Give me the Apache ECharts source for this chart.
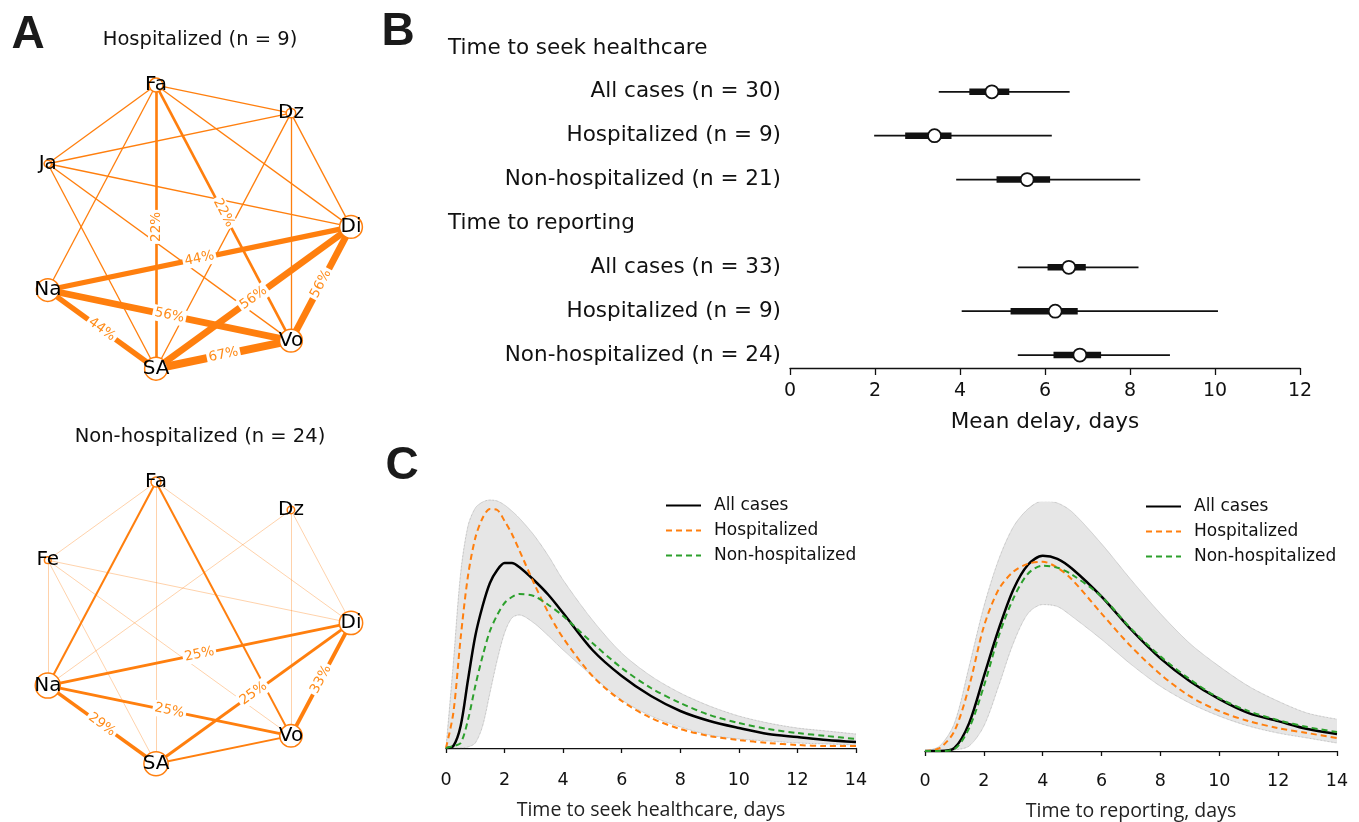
<!DOCTYPE html>
<html>
<head>
<meta charset="utf-8">
<script src="https://cdn.jsdelivr.net/npm/echarts@6/dist/echarts.min.js"></script>
<style>html,body{margin:0;padding:0;background:#fff}#main{width:1359px;height:822px}</style>
</head>
<body>
<div id="main"></div>
<script>
var FONT = '"DejaVu Sans", sans-serif';
var ORANGE = '#ff7f0e', GREEN = '#2ca02c';

// A - symptom networks (edge value = % of cases with both symptoms)
var hospNodes = ['Di','Dz','Fa','Ja','Na','SA','Vo'];
var hospCount = [8,2,4,1,8,8,8];        // n = 9
var hospEdges = [
	['Fa','Dz',11],['Fa','Ja',11],['Fa','Na',11],['Fa','Di',11],['Fa','SA',22],['Fa','Vo',22],
	['Ja','Dz',11],['Ja','Di',11],['Ja','Vo',11],['Ja','SA',11],
	['Dz','Di',11],['Dz','Vo',11],['Dz','SA',11],
	['Na','Di',44],['Na','SA',44],['Di','SA',56],['Di','Vo',56],['Na','Vo',56],['SA','Vo',67]
];
var nonHospNodes = ['Di','Dz','Fa','Fe','Na','SA','Vo'];
var nonHospCount = [22,3,6,2,24,23,21]; // n = 24
var nonHospEdges = [
	['Fa','Fe',4],['Fa','SA',4],['Fa','Di',4],['Dz','Na',4],['Dz','Di',4],['Dz','Vo',4],
	['Fe','Na',4],['Fe','SA',4],['Fe','Di',4],['Fe','Vo',4],
	['Fa','Na',17],['Fa','Vo',17],['SA','Vo',17],
	['Na','Di',25],['Na','Vo',25],['SA','Di',25],['Na','SA',29],['Di','Vo',33]
];

// B - mean delay, days
var forestCats = ['Time to seek healthcare','All cases (n = 30)','Hospitalized (n = 9)','Non-hospitalized (n = 21)',
	'Time to reporting','All cases (n = 33)','Hospitalized (n = 9)','Non-hospitalized (n = 24)'];
var forestRow = [1,2,3,5,6,7];
var ci95Lo = [3.50,1.98,3.91,5.36,4.04,5.36];
var ci50Lo = [4.22,2.71,4.86,6.06,5.19,6.20];
var meanDelay = [4.75,3.40,5.58,6.56,6.24,6.82];
var ci50Hi = [5.16,3.80,6.12,6.96,6.77,7.32];
var ci95Hi = [6.58,6.16,8.24,8.20,10.07,8.94];

// C - delay distributions (density)
var seekT = [0,0.25,0.5,0.75,1,1.25,1.5,1.75,2,2.25,2.5,3,3.5,4,5,6,7,8,9,10,11,12,13,14];
var seekAll = [0,.002,.022,.068,.112,.142,.165,.178,.185,.185,.181,.168,.153,.135,.098,.072,.052,.037,.027,.020,.014,.011,.008,.006];
var seekHosp = [0,.035,.110,.172,.210,.230,.239,.238,.227,.214,.198,.165,.135,.110,.072,.047,.030,.019,.012,.008,.005,.003,.002,.002];
var seekNonHosp = [0,.002,.005,.028,.062,.092,.117,.133,.145,.151,.154,.152,.143,.132,.105,.080,.060,.045,.033,.025,.019,.015,.012,.009];
var seekBandLo = [0,0,0,.001,.005,.022,.055,.088,.115,.130,.133,.125,.112,.098,.072,.048,.032,.021,.013,.009,.007,.005,.004,.003];
var seekBandHi = [0,.085,.175,.222,.240,.246,.248,.247,.243,.237,.230,.213,.192,.168,.128,.095,.072,.055,.042,.032,.025,.020,.017,.014];

var reportT = [0,0.5,1,1.5,2,2.5,3,3.5,4,4.5,5,6,7,8,9,10,11,12,13,14];
var reportAll = [0,0,.003,.028,.075,.122,.162,.187,.196,.193,.183,.155,.122,.093,.070,.052,.038,.030,.022,.017];
var reportHosp = [0,.003,.020,.065,.125,.162,.180,.188,.190,.184,.172,.138,.105,.077,.055,.040,.030,.023,.018,.013];
var reportNonHosp = [0,0,.002,.023,.065,.115,.153,.178,.186,.184,.177,.155,.123,.095,.072,.053,.040,.031,.024,.019];
var reportBandLo = [0,0,.001,.005,.025,.065,.108,.138,.147,.145,.135,.112,.087,.065,.048,.035,.025,.018,.013,.008];
var reportBandHi = [0,.005,.028,.085,.145,.192,.225,.243,.251,.249,.240,.208,.172,.138,.108,.085,.065,.050,.038,.032];

function zip(t, v){ return t.map(function(x,i){ return [x, v[i]]; }); }

function netSeries(nodes, counts, n, edges, gi){
	return {
		type: 'graph', coordinateSystem: 'cartesian2d', xAxisIndex: gi, yAxisIndex: gi,
		layout: 'none', silent: true,
		data: nodes.map(function(name, i){
			var a = 2 * Math.PI * i / nodes.length;	// circular layout
			return {name: name, value: [Math.cos(a), Math.sin(a)], symbolSize: 5 + 20 * counts[i] / n};
		}),
		links: edges.map(function(e){
			return {source: e[0], target: e[1], value: e[2],
				lineStyle: {width: Math.max(1, e[2] * 0.12), opacity: e[2] < 10 ? 0.35 : 1},
				label: {show: e[2] >= 20}};
		}),
		itemStyle: {color: '#fff', borderColor: ORANGE, borderWidth: 1.5},
		label: {show: true, position: 'inside', color: '#000', fontSize: 20, fontFamily: FONT},
		lineStyle: {color: ORANGE, curveness: 0},
		edgeLabel: {show: false, position: 'middle', distance: 0, verticalAlign: 'middle',
			formatter: '{c}%', color: '#ff8c1a', fontSize: 13.5,
			fontFamily: FONT, backgroundColor: '#fff', padding: [1, 2]}
	};
}

function curve(name, t, v, gi, color, dashed, width){
	return {name: name, type: 'line', xAxisIndex: gi, yAxisIndex: gi, data: zip(t, v), symbol: 'none',
		smooth: 0.3, silent: true, z: 3,
		lineStyle: {color: color, width: width, type: dashed ? [6, 4] : 'solid'}, itemStyle: {color: color}};
}
// grey band: upper edge filled grey, lower edge filled white on top of it
function band(t, lo, hi, gi){
	var edge = {color: '#9a9a9a', width: 0.7, type: 'dotted'};
	return [
		{type: 'line', xAxisIndex: gi, yAxisIndex: gi, data: zip(t, hi), symbol: 'none',
			smooth: 0.3, silent: true, z: 1, lineStyle: edge, areaStyle: {color: '#e6e6e6', opacity: 1}},
		{type: 'line', xAxisIndex: gi, yAxisIndex: gi, data: zip(t, lo), symbol: 'none',
			smooth: 0.3, silent: true, z: 2, lineStyle: edge, areaStyle: {color: '#fff', opacity: 1}}
	];
}

function timeAxis(gi, name, offset){
	return {gridIndex: gi, type: 'value', min: 0, max: 14, interval: 2, offset: offset,
		axisLine: {show: true, lineStyle: {color: '#111', width: 1.3}},
		axisTick: {show: true, length: 5, lineStyle: {color: '#111', width: 1.3}},
		axisLabel: {fontSize: 17.5, color: '#111', fontFamily: FONT, margin: 8},
		splitLine: {show: false},
		name: name, nameLocation: 'middle', nameGap: 37,
		nameTextStyle: {fontSize: 19.5, color: '#222', fontFamily: '"Open Sans", sans-serif'}};
}
function legendAt(left, top){
	return {orient: 'vertical', left: left, top: top, itemWidth: 35, itemHeight: 14, itemGap: 8,
		data: ['All cases', 'Hospitalized', 'Non-hospitalized'], selectedMode: false,
		itemStyle: {opacity: 0},
		textStyle: {fontSize: 17, color: '#111', fontFamily: FONT, padding: [0, 0, 0, 8]}};
}

var chart = echarts.init(document.getElementById('main'));
var option = {
	animation: false,
	backgroundColor: '#fff',
	textStyle: {fontFamily: FONT},
	grid: [
		{left: 32, top: 81.4, width: 319, height: 291},
		{left: 32, top: 478.4, width: 319, height: 289},
		{left: 790, top: 26, width: 510, height: 351},
		{left: 446, top: 498, width: 410, height: 250},
		{left: 925, top: 502, width: 412, height: 250}
	],
	xAxis: [
		{gridIndex: 0, type: 'value', min: -1, max: 1, show: false},
		{gridIndex: 1, type: 'value', min: -1, max: 1, show: false},
		{gridIndex: 2, type: 'value', min: 0, max: 12, interval: 2, offset: -9,
			axisLine: {show: true, lineStyle: {color: '#111', width: 1.3}},
			axisTick: {show: true, length: 7, lineStyle: {color: '#111', width: 1.3}},
			axisLabel: {fontSize: 19, color: '#111', margin: 14},
			splitLine: {show: false},
			name: 'Mean delay, days', nameLocation: 'middle', nameGap: 43,
			nameTextStyle: {fontSize: 21.5, color: '#111'}},
		timeAxis(3, 'Time to seek healthcare, days', 15),
		timeAxis(4, 'Time to reporting, days', 13)
	],
	yAxis: [
		{gridIndex: 0, type: 'value', min: -1, max: 1, show: false},
		{gridIndex: 1, type: 'value', min: -1, max: 1, show: false},
		{gridIndex: 2, type: 'category', data: forestCats, inverse: true,
			axisLine: {show: false}, axisTick: {show: false}, splitLine: {show: false},
			axisLabel: {fontSize: 21.5, color: '#111', margin: 9, interval: 0,
				formatter: function(v, i){ return (i === 0 || i === 4) ? '{h|' + v + '}' : v; },
				rich: {h: {width: 333, align: 'left', fontSize: 21.5, color: '#111'}}}},
		{gridIndex: 3, type: 'value', min: 0, max: 0.25, show: false},
		{gridIndex: 4, type: 'value', min: 0, max: 0.25, show: false}
	],
	legend: [legendAt(660, 492), legendAt(1140, 493)],
	graphic: [
		{type: 'text', x: 28, y: 35, style: {text: 'A', fontSize: 46, fontWeight: 'bold', fontFamily: '"Liberation Sans"', align: 'center', verticalAlign: 'middle', fill: '#1a1a1a'}},
		{type: 'text', x: 398, y: 32, style: {text: 'B', fontSize: 46, fontWeight: 'bold', fontFamily: '"Liberation Sans"', align: 'center', verticalAlign: 'middle', fill: '#1a1a1a'}},
		{type: 'text', x: 402, y: 466, style: {text: 'C', fontSize: 46, fontWeight: 'bold', fontFamily: '"Liberation Sans"', align: 'center', verticalAlign: 'middle', fill: '#1a1a1a'}},
		{type: 'text', x: 200, y: 40, style: {text: 'Hospitalized (n = 9)', fontSize: 19.5, fontFamily: FONT, align: 'center', verticalAlign: 'middle', fill: '#111'}},
		{type: 'text', x: 200, y: 437, style: {text: 'Non-hospitalized (n = 24)', fontSize: 19.5, fontFamily: FONT, align: 'center', verticalAlign: 'middle', fill: '#111'}}
	],
	series: [
		netSeries(hospNodes, hospCount, 9, hospEdges, 0),
		netSeries(nonHospNodes, nonHospCount, 24, nonHospEdges, 1),
		{
			type: 'custom', xAxisIndex: 2, yAxisIndex: 2, silent: true,
			data: forestRow.map(function(r, i){ return [r, ci95Lo[i], ci50Lo[i], meanDelay[i], ci50Hi[i], ci95Hi[i]]; }),
			encode: {y: 0, x: [1, 2, 3, 4, 5]},
			renderItem: function(params, api){
				var y = api.value(0);
				var a = api.coord([api.value(1), y]), b = api.coord([api.value(2), y]),
					m = api.coord([api.value(3), y]), c = api.coord([api.value(4), y]),
					d = api.coord([api.value(5), y]);
				return {type: 'group', children: [
					{type: 'line', shape: {x1: a[0], y1: a[1], x2: d[0], y2: d[1]}, style: {stroke: '#111', lineWidth: 1.7}},
					{type: 'rect', shape: {x: b[0], y: b[1] - 3.2, width: c[0] - b[0], height: 6.4}, style: {fill: '#111'}},
					{type: 'circle', shape: {cx: m[0], cy: m[1], r: 6.5}, style: {fill: '#fff', stroke: '#111', lineWidth: 1.8}}
				]};
			}
		}
	].concat(
		band(seekT, seekBandLo, seekBandHi, 3),
		[curve('All cases', seekT, seekAll, 3, '#000', false, 2.5),
		 curve('Hospitalized', seekT, seekHosp, 3, ORANGE, true, 2),
		 curve('Non-hospitalized', seekT, seekNonHosp, 3, GREEN, true, 2)],
		band(reportT, reportBandLo, reportBandHi, 4),
		[curve('All cases', reportT, reportAll, 4, '#000', false, 2.5),
		 curve('Hospitalized', reportT, reportHosp, 4, ORANGE, true, 2),
		 curve('Non-hospitalized', reportT, reportNonHosp, 4, GREEN, true, 2)]
	)
};
chart.setOption(option);
</script>
</body>
</html>
